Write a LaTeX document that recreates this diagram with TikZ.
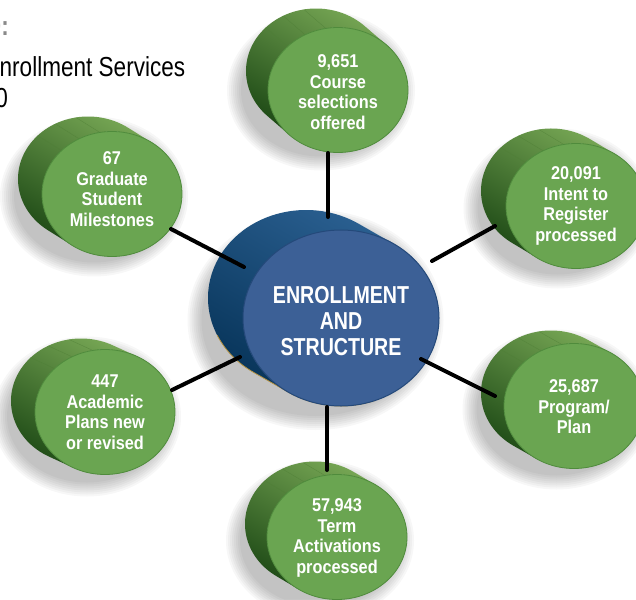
\documentclass[tikz,border=0pt]{standalone}
\usepackage{fontspec}
\setmainfont{Liberation Sans}
\newfontfamily\greenfont[FakeStretch=0.88]{Liberation Sans}
\newfontfamily\hubfont[FakeStretch=0.80]{Liberation Sans}
\newfontfamily\condfont[FakeStretch=0.82]{Liberation Sans}
\usetikzlibrary{calc,shapes.geometric}
\definecolor{gface}{HTML}{6AA551}
\definecolor{gborder}{HTML}{4F8B3C}
\definecolor{gsideL}{HTML}{76A654}
\definecolor{gsideM}{HTML}{4E8438}
\definecolor{gsideD}{HTML}{1E4A16}
\definecolor{gstripe}{HTML}{4E7E36}
\definecolor{bface}{HTML}{3C6096}
\definecolor{bborder}{HTML}{24497A}
\definecolor{bsideL}{HTML}{2A5F90}
\definecolor{bsideD}{HTML}{073459}
\definecolor{bgold}{HTML}{B89440}
\definecolor{titlegray}{HTML}{8A8A8A}
\tikzset{
  gfacestyle/.style={shape=ellipse, fill=gface, draw=gborder, line width=0.8pt, inner sep=0pt,
     minimum width=140pt, minimum height=125pt},
  gtextstyle/.style={inner sep=0pt, text=white, align=center,
     font=\greenfont\bfseries\fontsize{18.5}{20.5}\selectfont},
  bfacestyle/.style={shape=ellipse, fill=bface, draw=bborder, line width=1pt, inner sep=0pt,
     minimum width=196pt, minimum height=176pt},
  btextstyle/.style={inner sep=0pt, text=white, align=center,
     font=\hubfont\bfseries\fontsize{24.5}{26}\selectfont},
  link/.style={line width=4pt, line cap=round, draw=black},
  titletext/.style={inner sep=0pt, font=\condfont\fontsize{27.5}{30}\selectfont},
}
% name, x, y, dx, dy : coordinates and soft shadow
\newcommand\greenshadow[5]{%
  \coordinate (#1-f) at (#2,-#3);
  \coordinate (#1-b) at ($(#1-f)+(-#4,#5)$);
  \coordinate (#1-s) at ($(#1-f)!0.5!(#1-b)+(-6,-10)$);
  \foreach \k in {0,...,7}{%
    \pgfmathsetmacro\rrx{94-2*\k}\pgfmathsetmacro\rry{80-2*\k}%
    \fill[black,opacity=0.032] (#1-s) ellipse[x radius=\rrx, y radius=\rry];}
}
% name, dx, dy, text y-offset, text
\newcommand\greendisk[5]{%
  \pgfmathsetmacro\tang{atan2(62.5*#2,70*#3)}%
  \pgfmathsetmacro\tangb{\tang+180}%
  \shade[top color=gsideL, middle color=gsideM, bottom color=gsideD, shading angle=-30]
     ($(#1-b)+(\tang:70 and 62.5)$) arc[start angle=\tang, end angle=\tangb, x radius=70, y radius=62.5]
     -- ($(#1-f)+(\tangb:70 and 62.5)$) arc[start angle=\tangb, end angle=\tang, x radius=70, y radius=62.5] -- cycle;
  \foreach \a in {100,118,136}{%
    \draw[gstripe, line width=0.4pt, opacity=0.6] ($(#1-b)+(\a:70 and 62.5)$) -- ($(#1-f)+(\a:70 and 62.5)$);}
  \node[gfacestyle] (#1-face) at (#1-f) {};
  \node[gtextstyle] (#1) at ($(#1-f)+(0,#4)$) {#5};
}
\begin{document}
\begin{tikzpicture}[x=1pt,y=1pt]
\useasboundingbox (0,0) rectangle (636,-599);
\fill[white] (0,0) rectangle (636,-599);

% title (cut at the left edge)
\node[titletext, anchor=base east, text=titlegray, font=\condfont\bfseries\fontsize{27.5}{30}\selectfont] (titleA) at (9,-36) {0:};
\node[titletext, anchor=base west] (titleB) at (-0.5,-77) {nrollment Services};
\node[titletext, anchor=base east] (titleC) at (8,-107) {0};

% shadows
\greenshadow{course}{338}{90}{22}{19}
\greenshadow{grad}{112}{194}{24}{15}
\greenshadow{intent}{576}{206}{25}{15}
\greenshadow{program}{574}{406}{23}{13}
\greenshadow{academic}{105}{412}{24}{11}
\greenshadow{term}{337}{537}{22}{13}

% central cylinder
\coordinate (hub-f) at (341,-318);
\coordinate (hub-b) at ($(hub-f)+(-35,20)$);
\coordinate (hub-s) at ($(hub-f)!0.5!(hub-b)+(-8,-12)$);
\foreach \k in {0,...,7}{%
  \pgfmathsetmacro\rrx{128-2*\k}\pgfmathsetmacro\rry{110-2*\k}%
  \fill[black,opacity=0.032] (hub-s) ellipse[x radius=\rrx, y radius=\rry];}
\pgfmathsetmacro\htang{atan2(88*35,98*20)}
\pgfmathsetmacro\htangb{\htang+180}
\shade[top color=bsideL, bottom color=bsideD, shading angle=-30]
   ($(hub-b)+(\htang:98 and 88)$) arc[start angle=\htang, end angle=\htangb, x radius=98, y radius=88]
   -- ($(hub-f)+(\htangb:98 and 88)$) arc[start angle=\htangb, end angle=\htang, x radius=98, y radius=88] -- cycle;
\draw[bgold, line width=0.8pt]
   ($(hub-b)+(205:98 and 88)$) arc[start angle=205, end angle=\htangb, x radius=98, y radius=88]
   -- ($(hub-f)+(\htangb:98 and 88)$) arc[start angle=\htangb, end angle=290, x radius=98, y radius=88];
\node[bfacestyle] (hub-face) at (hub-f) {};
\node[btextstyle] (hub) at ($(hub-f)+(0,-3)$) {ENROLLMENT\\AND\\STRUCTURE};

% green cylinders
\greendisk{course}{22}{19}{-2}{9,651\\Course\\selections\\offered}
\greendisk{grad}{24}{15}{5}{67\\Graduate\\Student\\Milestones}
\greendisk{intent}{25}{15}{0}{20,091\\Intent to\\Register\\processed}
\greendisk{program}{23}{13}{-1}{25,687\\Program/\\Plan}
\greendisk{academic}{24}{11}{0}{447\\Academic\\Plans new\\or revised}
\greendisk{term}{22}{13}{-1}{57,943\\Term\\Activations\\processed}

% connector end points
\coordinate (l1a) at (328,-153); \coordinate (l1b) at (328,-217);
\coordinate (l2a) at (171,-229); \coordinate (l2b) at (244,-267);
\coordinate (l3a) at (495,-226); \coordinate (l3b) at (432,-261);
\coordinate (l4a) at (495,-396); \coordinate (l4b) at (421,-359);
\coordinate (l5a) at (172,-390); \coordinate (l5b) at (240,-357);
\coordinate (l6a) at (327,-470); \coordinate (l6b) at (327,-407);

\draw[link] (l1a) -- (l1b);
\draw[link] (l2a) -- (l2b);
\draw[link] (l3a) -- (l3b);
\draw[link] (l4a) -- (l4b);
\draw[link] (l5a) -- (l5b);
\draw[link] (l6a) -- (l6b);
\end{tikzpicture}
\end{document}
